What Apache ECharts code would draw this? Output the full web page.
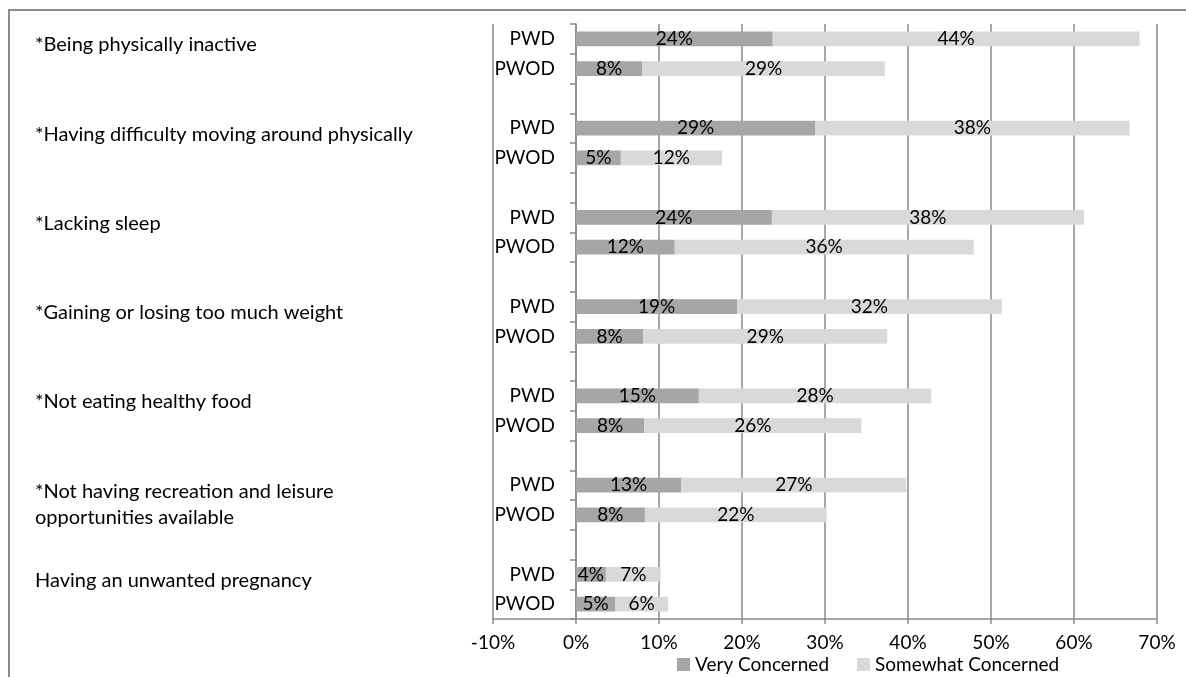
<!DOCTYPE html>
<html>
<head>
<meta charset="utf-8">
<style>
html,body{margin:0;padding:0;background:#fff;}
#chart{width:1186px;height:677px;}
</style>
<script src="https://cdn.jsdelivr.net/npm/echarts@6/dist/echarts.min.js"></script>
</head>
<body>
<div id="chart"></div>
<script>
// ---- data ----
const groups = [
  "*Being physically inactive",
  "*Having difficulty moving around physically",
  "*Lacking sleep",
  "*Gaining or losing too much weight",
  "*Not eating healthy food",
  "*Not having recreation and leisure\nopportunities available",
  "Having an unwanted pregnancy"
];
const rowLabels = ["PWD", "PWOD"];
const veryPWD   = [23.7, 28.8, 23.6, 19.4, 14.8, 12.7, 3.6];
const somePWD   = [44.2, 37.9, 37.6, 31.9, 28.0, 27.1, 6.6];
const veryPWOD  = [8.0, 5.4, 11.9, 8.1, 8.2, 8.3, 4.7];
const somePWOD  = [29.2, 12.2, 36.0, 29.4, 26.2, 21.9, 6.4];
const seriesNames = ["Very Concerned", "Somewhat Concerned"];
const xTicks = { min: -10, max: 70, step: 10 };

// ---- build rows (PWD, PWOD, spacer) ----
const rowCats = [], groupCats = [], veryData = [], someData = [];
groups.forEach((g, i) => {
  rowCats.push(rowLabels[0]); groupCats.push(g);  veryData.push(veryPWD[i]);  someData.push(somePWD[i]);
  rowCats.push(rowLabels[1]); groupCats.push(''); veryData.push(veryPWOD[i]); someData.push(somePWOD[i]);
  if (i < groups.length - 1) { rowCats.push(''); groupCats.push(''); veryData.push('-'); someData.push('-'); }
});

const FONT = 'Lato';
const FS = 19;
const lbl = {
  show: true, position: 'inside', color: '#000', fontFamily: FONT, fontSize: FS,
  formatter: p => (typeof p.value === 'number') ? Math.round(p.value) + '%' : ''
};

const chart = echarts.init(document.getElementById('chart'), null, {renderer: 'canvas'});
chart.setOption({
  animation: false,
  textStyle: { fontFamily: FONT },
  graphic: [{
    type: 'polyline', silent: true,
    shape: { points: [[9, 677], [9, 10], [1186, 10]] },
    style: { stroke: '#8a8a8a', lineWidth: 2, fill: null }
  }],
  grid: { left: 493, right: 29, top: 24, bottom: 58 },
  legend: {
    data: seriesNames, left: 672, top: 650,
    itemWidth: 13, itemHeight: 13, itemGap: 28,
    icon: 'rect',
    textStyle: { fontFamily: FONT, fontSize: FS, color: '#000' }
  },
  xAxis: {
    type: 'value', min: xTicks.min, max: xTicks.max, interval: xTicks.step,
    axisLine: { show: true, lineStyle: { color: '#8a8a8a', width: 1.5 } },
    axisTick: { show: true, length: 5, lineStyle: { color: '#8a8a8a', width: 1.5 } },
    axisLabel: { color: '#000', fontFamily: FONT, fontSize: FS, margin: 14, formatter: '{value}%' },
    splitLine: { show: true, lineStyle: { color: '#8a8a8a', width: 1.5 } }
  },
  yAxis: [{
    type: 'category', data: rowCats, inverse: true,
    axisLine: { show: true, onZero: true, lineStyle: { color: '#8a8a8a', width: 1.5 } },
    axisTick: { show: true, length: 6, lineStyle: { color: '#8a8a8a', width: 1.5 } },
    axisLabel: { color: '#000', fontFamily: FONT, fontSize: FS, margin: -62, align: 'right', interval: 0 }
  }, {
    type: 'category', data: groupCats, inverse: true, position: 'left',
    axisLine: { show: false, onZero: false },
    axisTick: { show: false },
    splitLine: { show: false },
    axisLabel: {
      color: '#000', fontFamily: FONT, fontSize: 20, interval: 0,
      align: 'left', margin: 458, verticalAlign: 'top', lineHeight: 26, padding: [-7, 0, 0, 0]
    }
  }],
  series: [{
    name: seriesNames[0], type: 'bar', stack: 'a', yAxisIndex: 0, barWidth: '50%',
    itemStyle: { color: '#a6a6a6' }, label: lbl, data: veryData
  }, {
    name: seriesNames[1], type: 'bar', stack: 'a', yAxisIndex: 0, barWidth: '50%',
    itemStyle: { color: '#d9d9d9' }, label: lbl, data: someData
  }]
});
</script>
</body>
</html>
